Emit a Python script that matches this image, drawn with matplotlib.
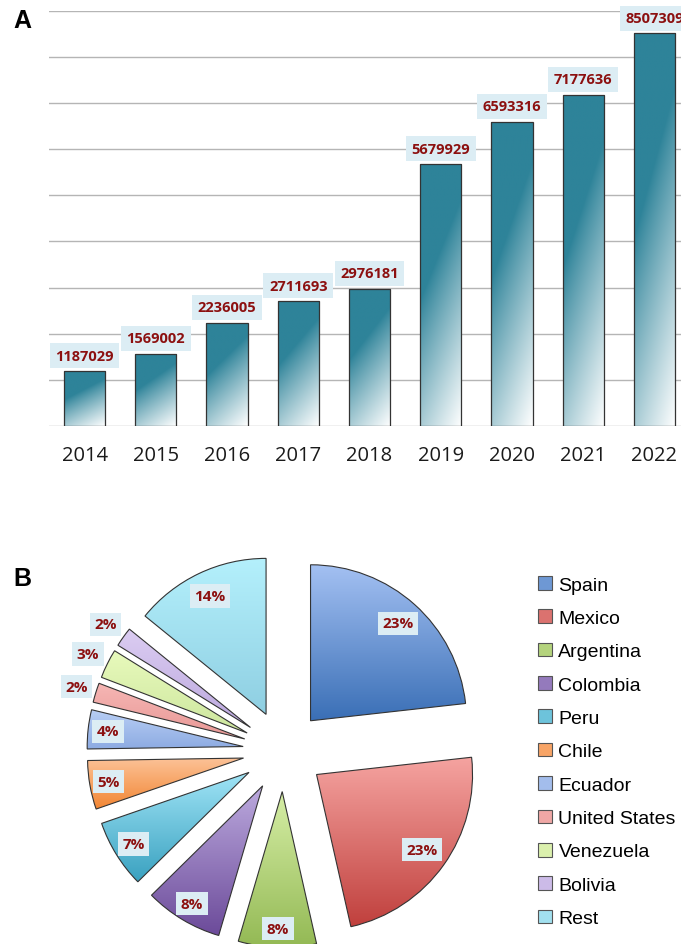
import matplotlib
matplotlib.use('Agg')
import matplotlib.pyplot as plt
import numpy as np
from matplotlib.colors import to_rgb
from matplotlib.patches import Patch

# --- data ---
years = ['2014', '2015', '2016', '2017', '2018', '2019', '2020', '2021', '2022']
counts = [1187029, 1569002, 2236005, 2711693, 2976181, 5679929, 6593316, 7177636, 8507309]

countries = ['Spain', 'Mexico', 'Argentina', 'Colombia', 'Peru', 'Chile', 'Ecuador',
             'United States', 'Venezuela', 'Bolivia', 'Rest']
shares = [23, 23, 8, 8, 7, 5, 4, 2, 3, 2, 14]

# gradient colours for the pie slices (top, bottom)
top_colors = ['#a3c0f2', '#f5a3a0', '#d6eea6', '#bcaade', '#a0e4f6', '#fcc399',
              '#b9cff5', '#f6b6b4', '#e8fabc', '#dccdf2', '#b4f0fc']
bottom_colors = ['#3a6fb6', '#c0403d', '#93b954', '#6c4b9a', '#39a1c0', '#f28633',
                 '#8dabe2', '#e89896', '#cde69e', '#bba8de', '#8fcfe2']
label_dist = [0.84, 0.83, 0.88, 0.88, 0.87, 0.88, 0.87, 1.13, 1.14, 1.14, 0.84]

label_color = '#8c1010'
box_color = '#dcedf4'
bar_dark = np.array(to_rgb('#2e8399'))

plt.rcParams['font.family'] = ['Open Sans', 'DejaVu Sans']

W, H = 681, 945
fig = plt.figure(figsize=(W / 100, H / 100), dpi=100)


def px_axes(left, top, right, bottom):
    # axes placed with pixel coordinates measured from the top-left corner
    return fig.add_axes([left / W, 1 - bottom / H, (right - left) / W, (bottom - top) / H])


# ---------------- A: bar chart ----------------
ax1 = px_axes(49, 11.7, 690, 427)
x = np.arange(len(years))
bars = ax1.bar(x, counts, width=0.58, facecolor='none', edgecolor='#333333',
               linewidth=0.9, zorder=3)

# gradient inside each bar: dark teal at the top, fading to white bottom-right
ny, nx = 200, 60
yy, xx = np.mgrid[0:1:ny * 1j, 0:1:nx * 1j]
s = np.clip(1.15 * yy + 0.45 * xx - 0.6, 0, 1) ** 0.9
s = s[..., None]
grad = bar_dark * (1 - s) + np.ones(3) * s
for b in bars:
    x0 = b.get_x()
    im = ax1.imshow(grad, extent=(x0, x0 + b.get_width(), 0, b.get_height()),
                    origin='upper', aspect='auto', zorder=2, interpolation='bilinear')
    im.set_clip_path(b)

for b, v in zip(bars, counts):
    ax1.annotate(f'{v}', (b.get_x() + b.get_width() / 2, v), xytext=(0, 6),
                 textcoords='offset points', ha='center', va='bottom',
                 fontsize=10.5, fontweight='bold', color=label_color,
                 bbox=dict(boxstyle='square,pad=0.38', fc=box_color, ec='none'),
                 annotation_clip=False, zorder=4)

ax1.set_xlim(-0.5, len(years) - 0.5)
ax1.set_ylim(0, 9e6)
ax1.set_yticks(np.arange(0, 9.01e6, 1e6))
ax1.yaxis.grid(True, color='#b5b5b5', linewidth=1.0)
ax1.set_axisbelow(True)
for sp in ax1.spines.values():
    sp.set_visible(False)
ax1.tick_params(axis='y', left=False, labelleft=False)
ax1.set_xticks(x, years)
ax1.tick_params(axis='x', length=0, pad=14, labelsize=14.5, labelcolor='#1a1a1a')

fig.text(13 / W, 1 - 9 / H, 'A', fontsize=18, fontweight='bold',
         family='Liberation Sans', va='top', ha='left')

# ---------------- B: pie chart ----------------
ax2 = px_axes(49.5, 518, 517.5, 986)
wedges, _ = ax2.pie(shares, startangle=90, counterclock=False,
                    explode=[0.26] * len(shares), radius=1,
                    wedgeprops=dict(edgecolor='#333333', linewidth=0.8))

for w, c_top, c_bot in zip(wedges, top_colors, bottom_colors):
    v = w.get_path().vertices
    g = np.linspace(0, 1, 100)[:, None, None]
    img = np.array(to_rgb(c_top)) * (1 - g) + np.array(to_rgb(c_bot)) * g
    img = np.repeat(img, 2, axis=1)
    im = ax2.imshow(img, extent=(v[:, 0].min(), v[:, 0].max(), v[:, 1].min(), v[:, 1].max()),
                    origin='upper', aspect='auto', zorder=2, interpolation='bilinear')
    im.set_clip_path(w)
    w.set_facecolor('none')
    w.set_zorder(3)

for w, share, d in zip(wedges, shares, label_dist):
    ang = np.deg2rad((w.theta1 + w.theta2) / 2)
    cx, cy = w.center
    ax2.text(cx + d * w.r * np.cos(ang), cy + d * w.r * np.sin(ang), f'{share}%',
             ha='center', va='center', fontsize=11, fontweight='bold', color=label_color,
             bbox=dict(boxstyle='square,pad=0.3', fc=box_color, ec='none'), zorder=4)

ax2.set_xlim(-1.5, 1.5)
ax2.set_ylim(-1.5, 1.5)
ax2.set_aspect('equal')
ax2.axis('off')

mid_colors = [tuple((np.array(to_rgb(a)) + np.array(to_rgb(b))) / 2)
              for a, b in zip(top_colors, bottom_colors)]
handles = [Patch(facecolor=c, edgecolor='#555555', linewidth=0.8) for c in mid_colors]
fig.legend(handles, countries, loc='upper left', bbox_to_anchor=(538 / W, 1 - 577 / H),
           frameon=False, borderpad=0, borderaxespad=0, handlelength=0.7, handleheight=0.7,
           handletextpad=0.35, labelspacing=0.81,
           prop=dict(family='Liberation Sans', size=14))

fig.text(13 / W, 1 - 567 / H, 'B', fontsize=18, fontweight='bold',
         family='Liberation Sans', va='top', ha='left')

plt.savefig('out.png', dpi=100)
